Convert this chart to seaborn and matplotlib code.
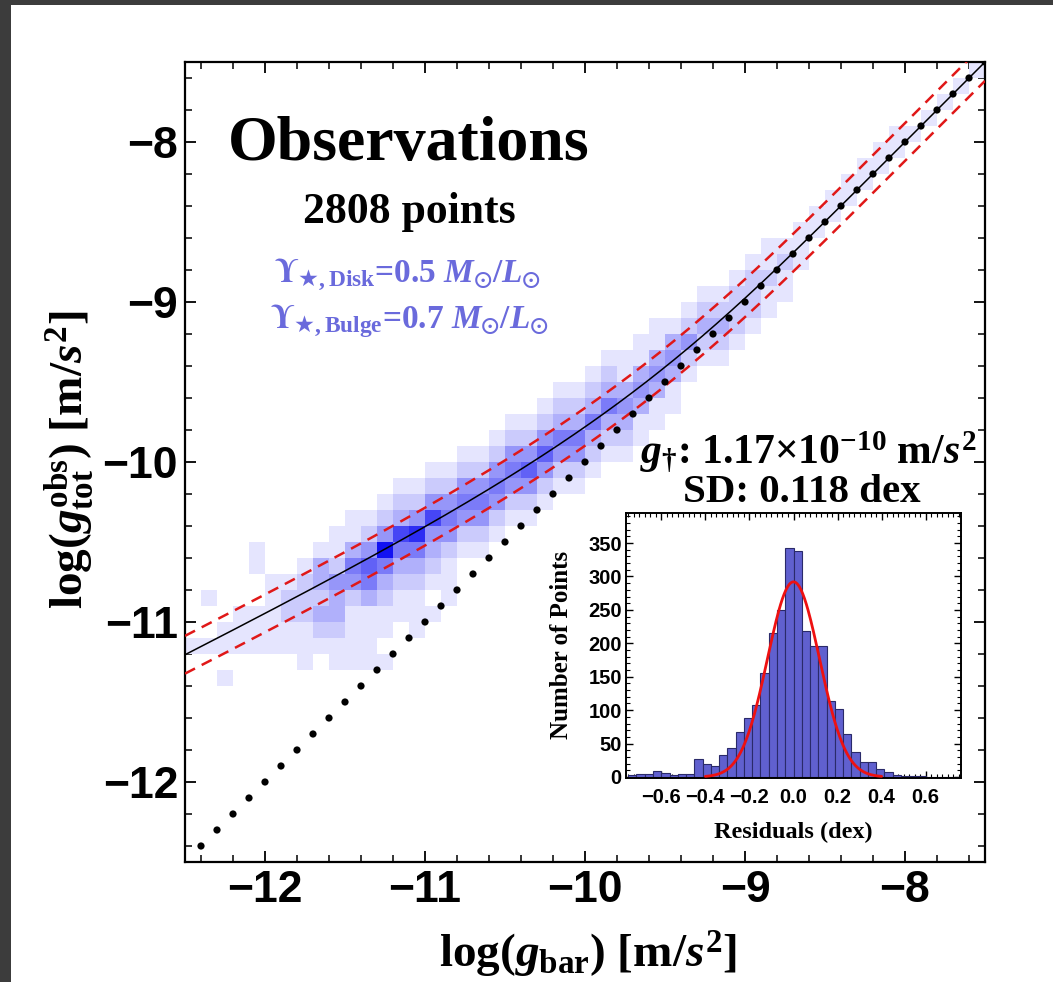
import numpy as np
import matplotlib
matplotlib.use("Agg")
import matplotlib.pyplot as plt
import seaborn as sns
from matplotlib.colors import LinearSegmentedColormap
from matplotlib.patches import Rectangle
from matplotlib.ticker import MultipleLocator, FixedLocator

# ------------------------------------------------------------------ data
G_DAGGER = 1.17e-10          # fitted acceleration scale [m/s^2]
SCATTER_SD = 0.118           # dex
N_POINTS = 2808

# 2D histogram (0.1 dex cells): column centres in log(g_bar), centre of the
# top cell listed, and cell intensities (0-9) going downward in log(g_obs)
HEAT_X = [-12.45, -12.35, -12.25, -12.15, -12.05, -11.95, -11.85, -11.75, -11.65, -11.55,
          -11.45, -11.35, -11.25, -11.15, -11.05, -10.95, -10.85, -10.75, -10.65, -10.55,
          -10.45, -10.35, -10.25, -10.15, -10.05, -9.95, -9.85, -9.75, -9.65, -9.55,
          -9.45, -9.35, -9.25, -9.15, -9.05, -8.95, -8.85, -8.75, -8.65, -8.55,
          -8.45, -8.35, -8.25, -8.15, -8.05, -7.95, -7.85, -7.75, -7.65, -7.55]
HEAT_YTOP = [-10.75, -10.75, -10.65, -10.65, -10.55, -10.55, -10.45, -10.45, -10.35, -10.35,
             -10.25, -10.25, -10.15, -10.05, -10.05, -9.95, -9.95, -9.85, -9.85, -9.75,
             -9.65, -9.65, -9.55, -9.45, -9.45, -9.35, -9.25, -9.25, -9.15, -9.05,
             -8.95, -8.85, -8.75, -8.75, -8.65, -8.55, -8.45, -8.35, -8.25, -8.15,
             -8.05, -7.95, -7.85, -7.75, -7.65, -7.55, -7.45, -7.35, -7.25, -7.15]
HEAT_COLS = ["000010000000", "010010000000", "000011010000", "000111000000", "110011100000",
             "001111100000", "000122110000", "001222111000", "001332321000", "011243321100",
             "011354211110", "012465311110", "012495321101", "012375321100", "012485321110",
             "012474321010", "012454211100", "012454210000", "012454210000", "012454210000",
             "012454210000", "012464210000", "012464210000", "012354210000", "012354210000",
             "012353210000", "012353210000", "011343210000", "011343110000", "011343110000",
             "001343110000", "001242100000", "001232100000", "001232100000", "001222100000",
             "001222100000", "001121100000", "000121100000", "000111000000", "000110000000",
             "000110000000", "000110000000", "000110000000", "000110000000", "000110000000",
             "000010000000", "000010000000", "000010000000", "000010000000", "000010000000"]

# residual histogram (bins of 0.0375 dex)
RESID_CENTERS = [-0.73125, -0.69375, -0.65625, -0.61875, -0.58125, -0.54375, -0.50625, -0.46875,
                 -0.43125, -0.39375, -0.35625, -0.31875, -0.28125, -0.24375, -0.20625, -0.16875,
                 -0.13125, -0.09375, -0.05625, -0.01875, 0.01875, 0.05625, 0.09375, 0.13125,
                 0.16875, 0.20625, 0.24375, 0.28125, 0.31875, 0.35625, 0.39375, 0.43125,
                 0.46875, 0.50625, 0.54375, 0.58125, 0.61875, 0.65625, 0.69375, 0.73125]
RESID_COUNTS = [3, 5, 4, 9, 6, 3, 5, 5,
                27, 20, 17, 33, 44, 68, 88, 108,
                155, 216, 250, 342, 338, 218, 196, 196,
                113, 101, 64, 37, 23, 23, 12, 8,
                3, 2, 2, 1, 0, 0, 0, 0]
GAUSS_PEAK = 292

MAIN_TICKS = [-12, -11, -10, -9, -8]
INSET_XTICKS = [-0.6, -0.4, -0.2, 0.0, 0.2, 0.4, 0.6]
INSET_YTICKS = [0, 50, 100, 150, 200, 250, 300, 350]

# ------------------------------------------------------------------ style
sns.set_theme(style="ticks")
plt.rcParams["font.family"] = ["Liberation Serif", "DejaVu Serif"]
plt.rcParams["font.weight"] = "bold"
plt.rcParams["text.color"] = "black"
plt.rcParams["axes.labelcolor"] = "black"
plt.rcParams["xtick.color"] = "black"
plt.rcParams["ytick.color"] = "black"
plt.rcParams["mathtext.fontset"] = "custom"
plt.rcParams["mathtext.rm"] = "Liberation Serif:bold"
plt.rcParams["mathtext.it"] = "Liberation Serif:bold:italic"
plt.rcParams["mathtext.bf"] = "Liberation Serif:bold"
plt.rcParams["mathtext.sf"] = "DejaVu Sans:bold"
plt.rcParams["mathtext.cal"] = "STIXGeneral:bold"
plt.rcParams["mathtext.fallback"] = "stix"
plt.rcParams["axes.unicode_minus"] = True

W, H = 1053, 982
fig = plt.figure(figsize=(W / 100, H / 100), dpi=100, facecolor="#3c3c3c")
fig.add_artist(Rectangle((11 / W, 0), 1, 1 - 5 / H, transform=fig.transFigure,
                         facecolor="white", edgecolor="none", zorder=-10))

def px_axes(l, t, r, b):
    return fig.add_axes([l / W, 1 - b / H, (r - l) / W, (b - t) / H])

ax = px_axes(185, 62, 985, 862)

# expand heat columns into cell table
hx, hy, hw = [], [], []
for xc, ytop, col in zip(HEAT_X, HEAT_YTOP, HEAT_COLS):
    for i, ch in enumerate(col):
        v = int(ch)
        if v > 0:
            hx.append(xc)
            hy.append(ytop - 0.1 * i)
            hw.append(v)

heat_cmap = LinearSegmentedColormap.from_list("wb", ["#ffffff", "#1212f2"])
sns.histplot(x=hx, y=hy, weights=hw, bins=50,
             binrange=((-12.5, -7.5), (-12.5, -7.5)),
             cmap=heat_cmap, vmin=0, vmax=9, ax=ax, zorder=1)

# RAR model curve and +-SD band
xg = np.linspace(-12.5, -7.5, 400)
gbar = 10 ** xg
yg = np.log10(gbar / (1 - np.exp(-np.sqrt(gbar / G_DAGGER))))
sns.lineplot(x=xg, y=yg, color="black", lw=1.1, ax=ax, zorder=4)
for s in (+SCATTER_SD, -SCATTER_SD):
    sns.lineplot(x=xg, y=yg + s, color="#e01818", lw=1.8,
                 linestyle=(0, (4.5, 3.0)), ax=ax, zorder=4)

# 1:1 line as dots
one_x = np.round(np.arange(-12.4, -7.45, 0.1), 2)
sns.scatterplot(x=one_x, y=one_x, marker="o", s=27, color="black",
                edgecolor="none", ax=ax, zorder=5)

ax.set_xlim(-12.5, -7.5)
ax.set_ylim(-12.5, -7.5)
ax.set_xlabel("")
ax.set_ylabel("")
ax.xaxis.set_major_locator(FixedLocator(MAIN_TICKS))
ax.yaxis.set_major_locator(FixedLocator(MAIN_TICKS))
ax.xaxis.set_minor_locator(MultipleLocator(0.2))
ax.yaxis.set_minor_locator(MultipleLocator(0.2))
ax.tick_params(which="both", direction="in", top=True, right=True, color="black")
ax.tick_params(which="major", length=8, width=1.3)
ax.tick_params(which="minor", length=5, width=1.1)
ax.tick_params(axis="x", which="major", pad=6)
ax.tick_params(axis="y", which="major", pad=5)
for lab in ax.get_xticklabels() + ax.get_yticklabels():
    lab.set_fontfamily(["Liberation Sans", "DejaVu Sans"])
    lab.set_fontweight("bold")
    lab.set_fontsize(32)
    lab.set_color("black")
for sp in ax.spines.values():
    sp.set_linewidth(1.6)
    sp.set_color("black")
    sp.set_visible(True)

# axis labels
fig.text(588 / W, 1 - 955 / H, r"log($g_{\rm bar}$) [m/$s^2$]",
         ha="center", va="center", fontsize=34, fontweight="bold", color="black")
fig.text(70 / W, 1 - 460 / H, r"log($g_{\rm tot}^{\rm obs}$) [m/$s^2$]",
         ha="center", va="center", rotation=90, fontsize=34, fontweight="bold",
         color="black")

# annotations
ax.text(0.279, 0.8775, "Observations", transform=ax.transAxes, ha="center",
        va="baseline", fontsize=46, fontweight="bold", color="black")
ax.text(0.28, 0.799, f"{N_POINTS} points", transform=ax.transAxes, ha="center",
        va="baseline", fontsize=31.5, fontweight="bold", color="black")
upsc = "#6a6adc"
ax.text(0.278, 0.725, r"$\mathcal{\Upsilon}_{\mathsf{★},\rm Disk}$=0.5 $M_{\odot}/L_{\odot}$",
        transform=ax.transAxes, ha="center", va="baseline", fontsize=24,
        fontweight="bold", color=upsc)
ax.text(0.28, 0.6675, r"$\mathcal{\Upsilon}_{\mathsf{★},\rm Bulge}$=0.7 $M_{\odot}/L_{\odot}$",
        transform=ax.transAxes, ha="center", va="baseline", fontsize=24,
        fontweight="bold", color=upsc)
ax.text(0.779, 0.499, r"$g_{\dagger}$: 1.17$\times$10$^{-10}$ m/$s^2$",
        transform=ax.transAxes, ha="center", va="baseline", fontsize=30,
        fontweight="bold", color="black")
ax.text(0.771, 0.45, f"SD: {SCATTER_SD} dex", transform=ax.transAxes,
        ha="center", va="baseline", fontsize=29.5, fontweight="bold", color="black")

# ------------------------------------------------------------------ inset
axin = px_axes(626, 513, 961, 778)
axin.set_facecolor("white")
sns.histplot(x=RESID_CENTERS, weights=RESID_COUNTS, bins=40, binrange=(-0.75, 0.75),
             color="#6060cf", edgecolor="#2a2a6a", linewidth=0.8, alpha=1.0,
             ax=axin, zorder=2)
xr = np.linspace(-0.4, 0.4, 200)
sns.lineplot(x=xr, y=GAUSS_PEAK * np.exp(-0.5 * (xr / SCATTER_SD) ** 2),
             color="#ee1111", lw=2.0, ax=axin, zorder=3)
axin.set_xlim(-0.76, 0.76)
axin.set_ylim(-1.5, 395)
axin.xaxis.set_major_locator(FixedLocator(INSET_XTICKS))
axin.yaxis.set_major_locator(FixedLocator(INSET_YTICKS))
axin.xaxis.set_minor_locator(MultipleLocator(0.025))
axin.yaxis.set_minor_locator(MultipleLocator(10))
axin.tick_params(which="both", direction="in", top=True, right=True, color="black")
axin.tick_params(which="major", length=5, width=1.0, pad=3)
axin.tick_params(which="minor", length=3, width=0.8)
axin.tick_params(axis="x", which="major", pad=7)
for lab in axin.get_xticklabels() + axin.get_yticklabels():
    lab.set_fontfamily(["Liberation Sans", "DejaVu Sans"])
    lab.set_fontweight("bold")
    lab.set_fontsize(14.5)
    lab.set_color("black")
axin.set_xlabel("")
axin.set_ylabel("")
for sp in axin.spines.values():
    sp.set_linewidth(1.4)
    sp.set_color("black")
    sp.set_visible(True)
fig.text(561 / W, 1 - 645 / H, "Number of Points", ha="center", va="center",
         rotation=90, fontsize=18, fontweight="bold", color="black")
fig.text(793 / W, 1 - 832 / H, "Residuals (dex)", ha="center", va="center",
         fontsize=17.5, fontweight="bold", color="black")

fig.savefig("out.png", dpi=100, facecolor=fig.get_facecolor())
